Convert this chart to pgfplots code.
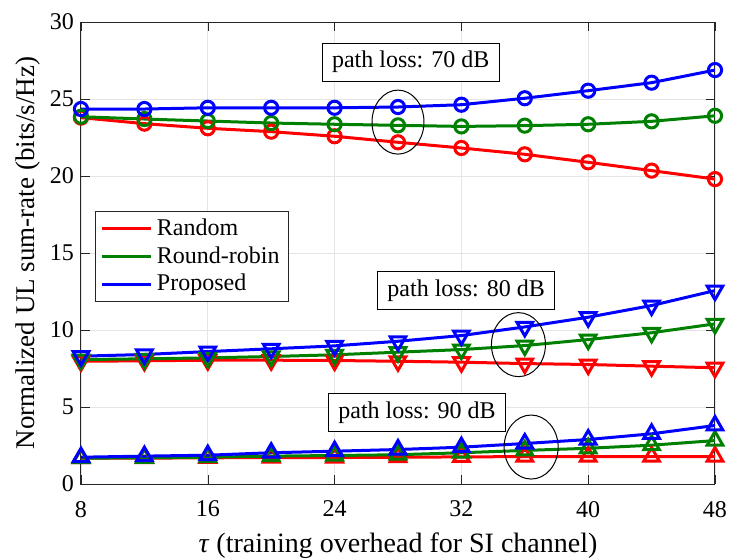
\documentclass[border=0pt]{standalone}
\usepackage{pgfplots}
\pgfplotsset{compat=1.18}
\usepackage{fontspec}
\setmainfont{Liberation Serif}
\definecolor{mred}{rgb}{1,0,0}
\definecolor{mgreen}{rgb}{0,0.5,0}
\definecolor{mblue}{rgb}{0,0,1}
\begin{document}
\begin{tikzpicture}
\path[use as bounding box] (-40.5pt,-37.5pt) rectangle (324pt,242pt);
\begin{axis}[
  at={(0,0)}, anchor=south west,
  scale only axis, width=317pt, height=231pt,
  xmin=8, xmax=48, ymin=0, ymax=30,
  xtick={8,16,...,48}, ytick={0,5,...,30},
  tick align=inside,
  grid=major, grid style={gray!20, line width=0.4pt},
  axis line style={black!85, line width=0.5pt},
  tick style={black!85},
  /pgf/number format/assume math mode=true,
  ticklabel style={font=\fontsize{12}{14}\selectfont},
  xticklabel style={yshift=-5pt},
  xlabel={\textit{τ} (training overhead for SI channel)},
  ylabel={Normalized UL sum-rate (bits/s/Hz)},
  xlabel style={font=\fontsize{14}{16}\selectfont, yshift=-1pt},
  ylabel style={font=\fontsize{13.5}{16}\selectfont, yshift=-2pt},
  legend entries={Random,Round-robin,Proposed},
  legend cell align=left,
  legend style={at={(rel axis cs:0.022,0.592)}, anchor=north west,
    font=\fontsize{12}{14}\selectfont, draw=black!85, line width=0.5pt,
    inner xsep=2.5pt, inner ysep=2pt, row sep=0pt},
  legend image code/.code={\draw[#1, line width=1.5pt] (0cm,0cm) -- (0.87cm,0cm);},
  every axis plot/.append style={line width=1.5pt},
]
\addlegendimage{mred}
\addlegendimage{mgreen}
\addlegendimage{mblue}
% 70 dB
\addplot[mred, mark=o, mark size=3.3pt, forget plot] coordinates {
(8,23.79)(12,23.40)(16,23.10)(20,22.88)(24,22.58)(28,22.19)(32,21.82)(36,21.41)(40,20.89)(44,20.35)(48,19.80)};
\addplot[mgreen, mark=o, mark size=3.3pt, forget plot] coordinates {
(8,23.85)(12,23.70)(16,23.57)(20,23.44)(24,23.36)(28,23.29)(32,23.22)(36,23.27)(40,23.36)(44,23.55)(48,23.91)};
\addplot[mblue, mark=o, mark size=3.3pt, forget plot] coordinates {
(8,24.35)(12,24.35)(16,24.43)(20,24.43)(24,24.43)(28,24.48)(32,24.63)(36,25.05)(40,25.54)(44,26.06)(48,26.88)};
% 80 dB
\addplot[mred, mark=triangle, mark size=4.5pt, mark options={rotate=180}, forget plot] coordinates {
(8,7.97)(12,8.00)(16,8.04)(20,8.04)(24,8.02)(28,7.97)(32,7.91)(36,7.82)(40,7.76)(44,7.65)(48,7.55)};
\addplot[mgreen, mark=triangle, mark size=4.5pt, mark options={rotate=180}, forget plot] coordinates {
(8,8.08)(12,8.13)(16,8.19)(20,8.28)(24,8.39)(28,8.56)(32,8.73)(36,8.99)(40,9.38)(44,9.82)(48,10.40)};
\addplot[mblue, mark=triangle, mark size=4.5pt, mark options={rotate=180}, forget plot] coordinates {
(8,8.30)(12,8.41)(16,8.60)(20,8.78)(24,8.97)(28,9.27)(32,9.64)(36,10.20)(40,10.83)(44,11.59)(48,12.56)};
% 90 dB
\addplot[mred, mark=triangle, mark size=4.5pt, forget plot] coordinates {
(8,1.68)(12,1.68)(16,1.70)(20,1.72)(24,1.72)(28,1.74)(32,1.76)(36,1.78)(40,1.78)(44,1.78)(48,1.78)};
\addplot[mgreen, mark=triangle, mark size=4.5pt, forget plot] coordinates {
(8,1.68)(12,1.70)(16,1.74)(20,1.81)(24,1.85)(28,1.90)(32,2.03)(36,2.18)(40,2.32)(44,2.52)(48,2.82)};
\addplot[mblue, mark=triangle, mark size=4.5pt, forget plot] coordinates {
(8,1.74)(12,1.81)(16,1.87)(20,2.03)(24,2.13)(28,2.24)(32,2.39)(36,2.63)(40,2.89)(44,3.26)(48,3.80)};
% annotations
\draw[black, line width=0.5pt] (axis cs:28,23.5) ellipse [x radius=13pt, y radius=16pt];
\draw[black, line width=0.5pt] (axis cs:35.6,9.05) ellipse [x radius=13.5pt, y radius=16pt];
\draw[black, line width=0.5pt] (axis cs:36.4,2.4) ellipse [x radius=13.5pt, y radius=16pt];
\node[draw=black, line width=0.5pt, fill=white, font=\fontsize{12}{14}\selectfont, inner xsep=5pt, minimum height=19pt] at (axis cs:28.8,27.4) {path loss: 70 dB};
\node[draw=black, line width=0.5pt, fill=white, font=\fontsize{12}{14}\selectfont, inner xsep=5pt, minimum height=19pt] at (axis cs:32.3,12.55) {path loss: 80 dB};
\node[draw=black, line width=0.5pt, fill=white, font=\fontsize{12}{14}\selectfont, inner xsep=5pt, minimum height=19pt] at (axis cs:29.2,4.62) {path loss: 90 dB};
\end{axis}
\end{tikzpicture}
\end{document}
